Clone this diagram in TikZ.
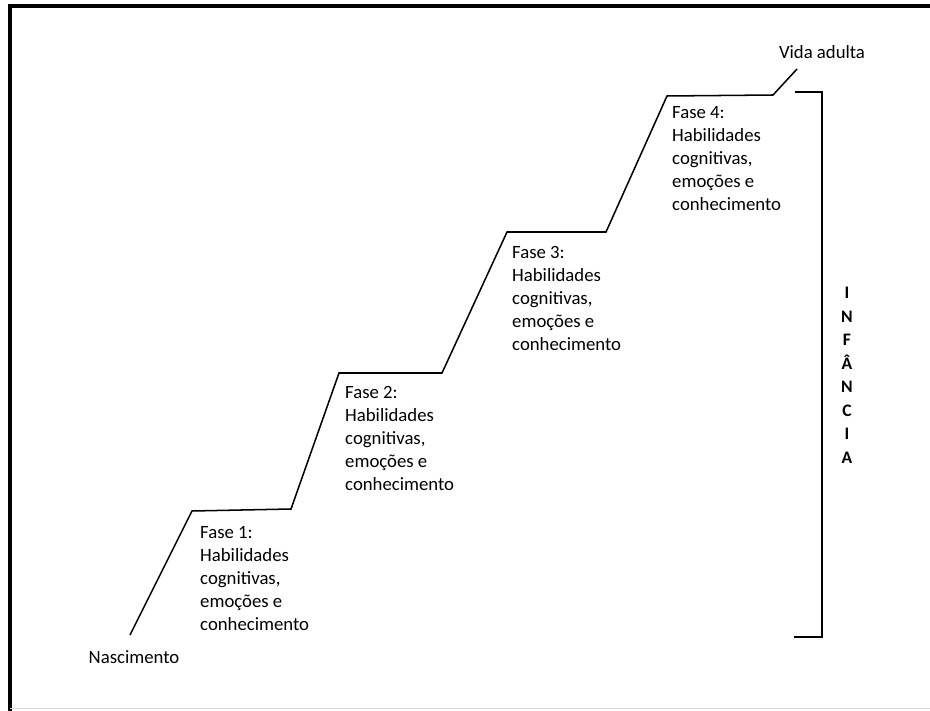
\documentclass[tikz,border=0pt]{standalone}
\usepackage{fontspec}
\setmainfont{Carlito}
\usetikzlibrary{positioning}

\begin{document}
\begin{tikzpicture}[x=0.03cm,y=-0.03cm]
	\def\W{930}
	\def\H{711}
	\tikzset{
		stair/.style={line width=1.3pt, line join=miter},
		fasetext/.style={anchor=north west, inner sep=0pt, align=left, font=\fontsize{16}{19.6}\selectfont},
		label/.style={inner sep=0pt, font=\fontsize{16}{19.6}\selectfont}
	}
	\useasboundingbox (0,0) rectangle (\W,\H);
	
	% frame
	\draw[line width=2.6pt] (10,\H) -- (10,6) -- (\W,6);
	\draw[black!15, line width=0.6pt] (10,708) -- (\W,708);
	
	% step corners
	\coordinate (c0) at (130,635);
	\coordinate (c1) at (192,511);
	\coordinate (c2) at (291,509);
	\coordinate (c3) at (339,373);
	\coordinate (c4) at (442,373);
	\coordinate (c5) at (507,232);
	\coordinate (c6) at (606,232);
	\coordinate (c7) at (667,96);
	\coordinate (c8) at (773,95);
	\coordinate (c9) at (797,69);
	\draw[stair] (c0) -- (c1) -- (c2) -- (c3) -- (c4) -- (c5) -- (c6) -- (c7) -- (c8) -- (c9);
	
	% ends
	\node[label] (nascimento) at (134,657) {Nascimento};
	\node[label] (adulta) at (822,52) {Vida adulta};
	
	% phases
	\node[fasetext] (fase1) at (200,526) {Fase 1:\\Habilidades\\cognitivas,\\emoções e\\conhecimento};
	\node[fasetext] (fase2) at (345,386) {Fase 2:\\Habilidades\\cognitivas,\\emoções e\\conhecimento};
	\node[fasetext] (fase3) at (512,246) {Fase 3:\\Habilidades\\cognitivas,\\emoções e\\conhecimento};
	\node[fasetext] (fase4) at (672,106) {Fase 4:\\Habilidades\\cognitivas,\\emoções e\\conhecimento};
	
	% bracket: infancia
	\coordinate (b0) at (795,92);
	\coordinate (b1) at (822,92);
	\coordinate (b2) at (822,637);
	\coordinate (b3) at (794,637);
	\draw[line width=1.1pt] (b0) -- (b1) -- (b2) -- (b3);
	\node[anchor=north, inner sep=0pt, align=center, font=\bfseries\fontsize{15}{20.1}\selectfont] (infancia) at (847,287) {I\\N\\F\\Â\\N\\C\\I\\A};
\end{tikzpicture}
\end{document}
